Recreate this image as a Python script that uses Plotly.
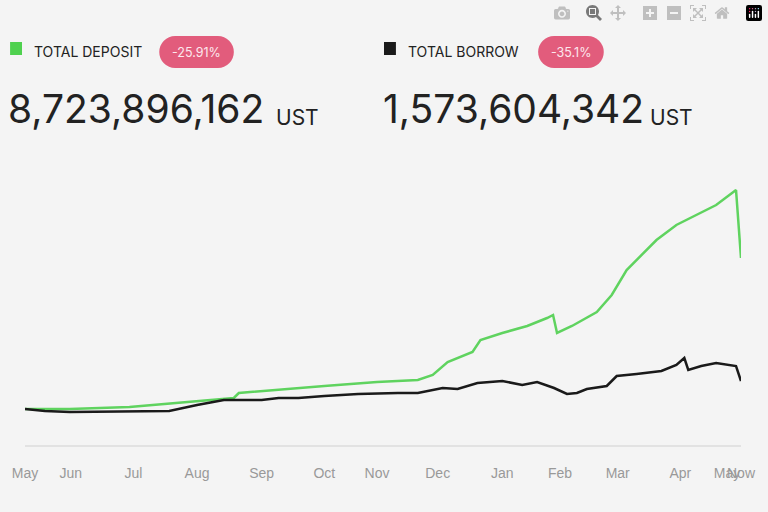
import plotly.graph_objects as go

tick_pos = [25, 71, 134, 198, 263, 326, 379, 440, 505, 563, 621, 684, 731, 745]
tick_text = ["May", "Jun", "Jul", "Aug", "Sep", "Oct", "Nov", "Dec", "Jan", "Feb", "Mar", "Apr", "May", "Now"]

dep_x = [25,70,130,198,235,240,263,290,326,379,420,435,450,475,483,505,530,550,556,560,575,600,615,630,660,680,700,720,740,745]
dep_y = [37,37,39,45,48,53,55,57,60,64,66,71,84,94,106,113,120,128,131,113,120,134,151,176,206,221,231,241,256,188]
bor_x = [25,45,70,130,170,198,225,240,263,280,300,326,360,400,420,445,460,480,505,525,540,557,570,580,590,610,620,640,665,680,688,692,705,720,740,745]
bor_y = [37,35,34,35,35,41,46,46,46,48,48,50,52,53,53,58,57,63,65,61,64,58,52,53,57,60,70,72,75,81,88,76,80,83,80,65]

W, H = 768, 512
L, R, T, B = 25, 23, 186, 66
def px(x): return (x - L) / (W - L - R)
def py(y): return (H - B - y) / (H - T - B)

fig = go.Figure()
fig.add_trace(go.Scatter(x=dep_x, y=dep_y, mode="lines", line=dict(color="#5fd35f", width=2.5), hoverinfo="skip"))
fig.add_trace(go.Scatter(x=bor_x, y=bor_y, mode="lines", line=dict(color="#1a1a1a", width=2.5), hoverinfo="skip"))

shapes = [dict(type="line", xref="paper", yref="paper", x0=0, x1=1, y0=0, y1=0, line=dict(color="#dcdcdc", width=1.5))]
for x0, x1, c in [(10, 22, "#4fd14f"), (386, 398, "#1a1a1a")]:
    shapes.append(dict(type="rect", xref="paper", yref="paper", x0=px(x0), x1=px(x1), y0=py(55), y1=py(42),
                       fillcolor=c, line=dict(width=0), layer="above"))
def pill(x0, x1, y0, y1):
    r = (y1 - y0) / 2
    return [dict(type="rect", xref="paper", yref="paper", x0=px(x0 + r), x1=px(x1 - r), y0=py(y1), y1=py(y0), fillcolor="#e25c7c", line=dict(width=0)),
            dict(type="circle", xref="paper", yref="paper", x0=px(x0), x1=px(x0 + 2*r), y0=py(y1), y1=py(y0), fillcolor="#e25c7c", line=dict(width=0)),
            dict(type="circle", xref="paper", yref="paper", x0=px(x1 - 2*r), x1=px(x1), y0=py(y1), y1=py(y0), fillcolor="#e25c7c", line=dict(width=0))]
shapes += pill(160, 235, 36, 68) + pill(541, 607, 36, 68)

ann = []
def txt(x, y, s, size, color="#222", xa="left"):
    ann.append(dict(xref="paper", yref="paper", x=px(x), y=py(y), text=s, showarrow=False, xanchor=xa, yanchor="middle",
                    font=dict(size=size, color=color, family="Inter")))
txt(32, 51, "TOTAL DEPOSIT", 14)
txt(408, 51, "TOTAL BORROW", 14)
txt(197.5, 52, "-25.91%", 12.5, "#fde8ee", "center")
txt(574, 52, "-35.1%", 12.5, "#fde8ee", "center")
txt(6, 109, "8,723,896,162", 39)
txt(275, 117, "UST", 21)
txt(383, 109, "1,573,604,342", 39)
txt(651, 117, "UST", 21)

fig.update_layout(width=W, height=H, margin=dict(l=L, r=R, t=T, b=B), paper_bgcolor="#f4f4f4", plot_bgcolor="#f4f4f4",
                  showlegend=False, shapes=shapes, annotations=ann,
                  xaxis=dict(range=[25, 745], tickvals=tick_pos, ticktext=tick_text, showgrid=False, zeroline=False, tickangle=0,
                             ticks="outside", ticklen=14, tickcolor="rgba(0,0,0,0)", tickfont=dict(size=14, color="#999", family="Liberation Sans Narrow, Liberation Sans")),
                  yaxis=dict(range=[0, 260], visible=False))
fig.write_html("out.html", post_script="document.body.style.margin='0';document.body.style.overflow='hidden';document.body.style.background='#f4f4f4';")
